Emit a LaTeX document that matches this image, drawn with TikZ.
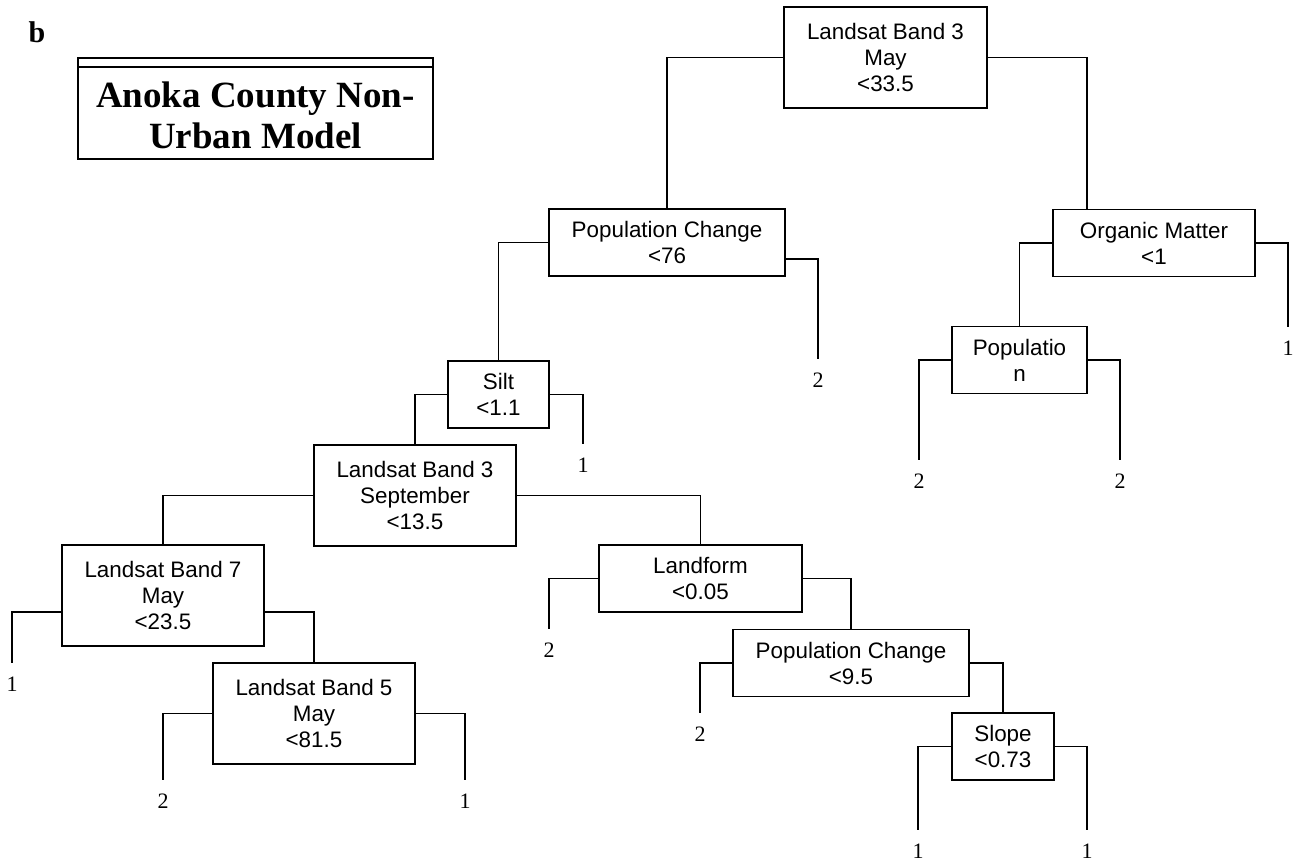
\documentclass[tikz,border=0pt]{standalone}
\usepackage{fontspec}
\setmainfont{Liberation Serif}
\newfontfamily\splitfont{Liberation Sans}
\usepackage{tikz}
\usetikzlibrary{calc}

\tikzset{
  split/.style={draw, line width=1.4pt, inner sep=0pt, align=center,
    font=\splitfont\fontsize{16.8pt}{19.5pt}\selectfont},
  short/.style={minimum height=50.25pt},
  tall/.style={minimum height=75.75pt},
  leaf/.style={inner sep=0pt, outer ysep=10pt, font=\fontsize{16.5pt}{19pt}\selectfont},
  branch/.style={line width=1.4pt},
}

\begin{document}
\begin{tikzpicture}[x=0.75pt,y=0.75pt,yscale=-1,xscale=1]
\useasboundingbox (0,0) rectangle (1303,863);

% Text Node
\node (tag) [anchor=base, inner sep=0pt, font=\bfseries\fontsize{22.5pt}{26pt}\selectfont] at (37,43) {b};
% Text Node
\node (title) [inner sep=0pt, align=center, font=\bfseries\fontsize{27.75pt}{30.75pt}\selectfont] at (255.5,115) {Anoka County Non-\\Urban Model};
%Shape: Rectangle
\draw [line width=1.7pt] (78,67) rectangle (433,159);
\draw [line width=0.9pt] (78,67) |- (433,58) -- (433,67);

% split nodes
\node (root) [split, tall, minimum width=152.25pt] at (885.5,57.5) {Landsat Band 3\\May\\<33.5};
\node (pc1) [split, short, minimum width=177pt] at (667,242.5) {Population Change\\<76};
\node (om) [split, short, minimum width=151.5pt] at (1154,243) {Organic Matter\\<1};
\node (pop) [split, short, minimum width=101.25pt] at (1019.5,360) {Populatio\\n};
\node (silt) [split, short, minimum width=75.75pt] at (498.5,394.5) {Silt\\<1.1};
\node (lb3) [split, tall, minimum width=151.5pt] at (415,495.5) {Landsat Band 3\\September\\<13.5};
\node (lb7) [split, tall, minimum width=151.5pt] at (163,595.5) {Landsat Band 7\\May\\<23.5};
\node (lb5) [split, tall, minimum width=151.5pt] at (314,713.5) {Landsat Band 5\\May\\<81.5};
\node (landform) [split, short, minimum width=152.25pt] at (700.5,578.5) {Landform\\<0.05};
\node (pc2) [split, short, minimum width=177pt] at (851,663) {Population Change\\<9.5};
\node (slope) [split, short, minimum width=76.5pt] at (1003,746.5) {Slope\\<0.73};

% leaves
\node (l1) [leaf] at (818,380) {2};
\node (l2) [leaf] at (583,465) {1};
\node (l3) [leaf] at (12,684) {1};
\node (l4) [leaf] at (163,801) {2};
\node (l5) [leaf] at (465,801) {1};
\node (l6) [leaf] at (549,650) {2};
\node (l7) [leaf] at (700,734) {2};
\node (l8) [leaf] at (918,851) {1};
\node (l9) [leaf] at (1087,851) {1};
\node (l10) [leaf] at (1288,348) {1};
\node (l11) [leaf] at (919,481) {2};
\node (l12) [leaf] at (1120,481) {2};

%Straight Lines
\draw [branch] (root.west) -| (pc1.north);
\draw [branch] (root.east) -| ($(om.north)+(-67,0)$);
\draw [branch] (pc1.west) -| (silt.north);
\draw [branch] ($(pc1.east)+(0,16.5)$) -| (l1.north);
\draw [branch] (om.west) -| (pop.north);
\draw [branch] (om.east) -| (l10.north);
\draw [branch] (pop.west) -| (l11.north);
\draw [branch] (pop.east) -| (l12.north);
\draw [branch] (silt.west) -| (lb3.north);
\draw [branch] (silt.east) -| (l2.north);
\draw [branch] (lb3.west) -| (lb7.north);
\draw [branch] (lb3.east) -| (landform.north);
\draw [branch] ($(lb7.west)+(0,16.5)$) -| (l3.north);
\draw [branch] ($(lb7.east)+(0,16.5)$) -| (lb5.north);
\draw [branch] (lb5.west) -| (l4.north);
\draw [branch] (lb5.east) -| (l5.north);
\draw [branch] (landform.west) -| (l6.north);
\draw [branch] (landform.east) -| (pc2.north);
\draw [branch] (pc2.west) -| (l7.north);
\draw [branch] (pc2.east) -| (slope.north);
\draw [branch] (slope.west) -| (l8.north);
\draw [branch] (slope.east) -| (l9.north);

\end{tikzpicture}
\end{document}
